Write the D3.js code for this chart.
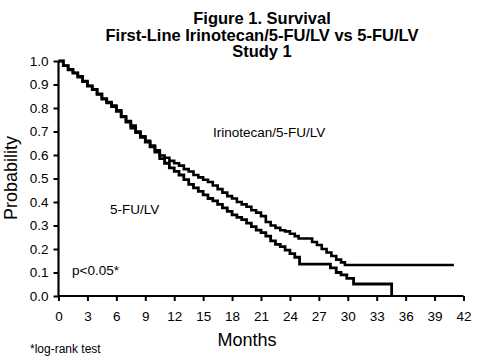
<!DOCTYPE html>
<html><head><meta charset="utf-8">
<script src="https://cdn.jsdelivr.net/npm/d3@7"></script>
<style>body{margin:0;background:#fff}svg{display:block}text{font-family:"Liberation Sans",Arial,sans-serif;fill:#000}</style>
</head><body>
<svg id="c" width="480" height="361"></svg>
<script>
const titleLines = ["Figure 1. Survival", "First-Line Irinotecan/5-FU/LV vs 5-FU/LV", "Study 1"];
const xTicks = [0,3,6,9,12,15,18,21,24,27,30,33,36,39,42];
const yTicks = [0,0.1,0.2,0.3,0.4,0.5,0.6,0.7,0.8,0.9,1.0];
const irinoMonths = [0,0.5,1,1.5,2,2.5,3,3.5,4,4.5,5,5.5,6,6.5,7,7.5,8,8.5,9,9.5,10,10.5,11,11.5,12,12.5,13,13.5,14,14.5,15,15.5,16,16.5,17,17.5,18,18.5,19,19.5,20,20.5,21,21.5,22,22.5,23,23.5,24,24.5,24.9,26.3,26.8,27.3,27.8,28.3,28.8,29.3,29.7,41];
const irinoSurv   = [1,0.98,0.965,0.95,0.935,0.915,0.895,0.88,0.86,0.84,0.825,0.81,0.79,0.765,0.745,0.725,0.70,0.68,0.66,0.64,0.62,0.598,0.588,0.575,0.565,0.555,0.54,0.53,0.515,0.505,0.495,0.485,0.47,0.455,0.44,0.425,0.415,0.40,0.39,0.38,0.365,0.355,0.34,0.315,0.30,0.29,0.28,0.275,0.265,0.255,0.245,0.23,0.217,0.20,0.185,0.17,0.155,0.143,0.132,0.132];
const fuMonths = [0,0.5,1,1.5,2,2.5,3,3.5,4,4.5,5,5.5,6,6.5,7,7.5,8,8.5,9,9.5,10,10.5,11,11.5,12,12.5,13,13.5,14,14.5,15,15.5,16,16.5,17,17.5,18,18.5,19,19.5,20,20.5,21,21.5,22,22.5,23,23.5,24,24.5,25,28.2,28.8,29.3,29.9,30.6,34.55];
const fuSurv   = [1,0.98,0.962,0.948,0.932,0.912,0.893,0.878,0.858,0.838,0.822,0.806,0.786,0.762,0.74,0.715,0.695,0.675,0.655,0.635,0.612,0.585,0.565,0.545,0.53,0.515,0.495,0.475,0.46,0.445,0.43,0.415,0.405,0.39,0.375,0.36,0.345,0.335,0.325,0.31,0.295,0.28,0.27,0.255,0.235,0.22,0.21,0.195,0.18,0.165,0.136,0.12,0.10,0.09,0.075,0.051,0];
const seriesLabels = ["Irinotecan/5-FU/LV","5-FU/LV"];

const svg = d3.select("#c");
const x = d3.scaleLinear().domain([0,42]).range([58.5,463.5]);
const y = d3.scaleLinear().domain([0,1]).range([296,61]);

// title
svg.append("g").selectAll("text").data(titleLines).join("text")
  .attr("x",262).attr("y",(d,i)=>24+i*16.5).attr("text-anchor","middle")
  .attr("font-size",16.5).attr("font-weight","bold").text(d=>d);

// axes
const xa = svg.append("g").attr("transform","translate(0,296)")
  .call(d3.axisBottom(x).tickValues(xTicks).tickFormat(d3.format("d")).tickSize(5).tickPadding(10));
const ya = svg.append("g").attr("transform","translate(58.5,0)")
  .call(d3.axisLeft(y).tickValues(yTicks).tickFormat(d3.format(".1f")).tickSize(5).tickPadding(5));
[xa,ya].forEach(g=>{
  g.select(".domain").attr("stroke","#000").attr("stroke-width",2.2);
  g.selectAll(".tick line").attr("stroke","#000").attr("stroke-width",2);
  g.selectAll(".tick text").attr("font-size",13.5).attr("font-family","'Liberation Sans',Arial,sans-serif").attr("fill","#000");
});
xa.select(".domain").attr("d","M58.5,0H463.5");
ya.select(".domain").attr("d","M0,61V296");

// curves
const line = d3.line().x(d=>x(d[0])).y(d=>y(d[1])).curve(d3.curveStepAfter);
const irino = irinoMonths.map((m,i)=>[m,irinoSurv[i]]);
const fu = fuMonths.map((m,i)=>[m,fuSurv[i]]);
svg.append("path").attr("d",line(fu)).attr("fill","none").attr("stroke","#000").attr("stroke-width",2.8);
svg.append("path").attr("d",line(irino)).attr("fill","none").attr("stroke","#000").attr("stroke-width",2.6);

// labels
svg.append("text").attr("x",213).attr("y",137).attr("font-size",13.5).text(seriesLabels[0]);
svg.append("text").attr("x",110).attr("y",214).attr("font-size",13.5).text(seriesLabels[1]);
svg.append("text").attr("x",72).attr("y",275).attr("font-size",13.5).text("p<0.05*");
svg.append("text").attr("x",247).attr("y",346).attr("text-anchor","middle").attr("font-size",18).text("Months");
svg.append("text").attr("transform","translate(17,178) rotate(-90)").attr("text-anchor","middle").attr("font-size",18).text("Probability");
svg.append("text").attr("x",30).attr("y",353).attr("font-size",12).text("*log-rank test");
</script>
</body></html>
